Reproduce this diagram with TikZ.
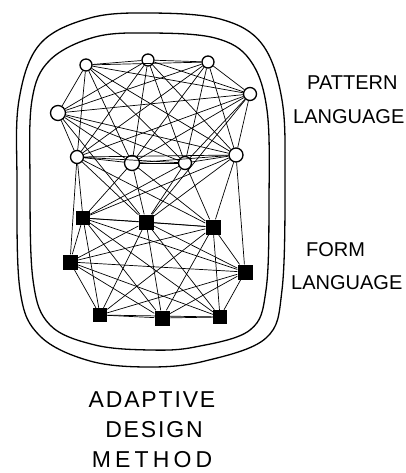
\documentclass[tikz,border=0pt]{standalone}
\usepackage{fontspec}
\newfontfamily\handfont{Liberation Sans}
\newfontfamily\handwide[LetterSpace=8]{Liberation Sans}
\newfontfamily\handwider[LetterSpace=18]{Liberation Sans}
\usetikzlibrary{calc}

\begin{document}
\begin{tikzpicture}[x=1pt, y=-1pt,
  pat/.style={circle, draw, line width=1.3pt, fill=white, inner sep=0pt, minimum size=#1},
  pat/.default=12pt,
  form/.style={rectangle, fill=black, inner sep=0pt, minimum size=#1},
  form/.default=14pt,
  link/.style={line width=0.7pt},
  rim/.style={line width=1.3pt},
  sidelab/.style={font=\handfont\fontsize{20}{20}\selectfont, anchor=west, inner sep=0pt},
  baselab/.style={font=\handwide\fontsize{23}{23}\selectfont, inner sep=0pt}]
  \useasboundingbox (0,0) rectangle (406,473);
  % --- Double rim ---
  \draw[rim] plot[smooth cycle, tension=0.6] coordinates {
    (150,13) (220,19) (262,44) (282,100) (285,180) (282,290) (266,338)
    (205,361) (150,367) (90,361) (40,336) (20,290) (17,180) (19,100) (40,44) (90,18)};
  \draw[rim] plot[smooth cycle, tension=0.6] coordinates {
    (150,33) (215,38) (250,60) (267,110) (269,200) (266,290) (250,330)
    (195,347) (150,350) (95,345) (50,325) (33,280) (30,180) (32,100) (50,60) (95,37)};
  % --- Pattern language (circles) ---
  \node[pat] (p1) at (86,65) {};
  \node[pat] (p2) at (148,60) {};
  \node[pat] (p3) at (208,62) {};
  \node[pat=15pt] (p4) at (58,113) {};
  \node[pat=13pt] (p5) at (250,94) {};
  \node[pat=13pt] (p6) at (77,157) {};
  \node[pat=15pt] (p7) at (132,163) {};
  \node[pat=13pt] (p8) at (185,163) {};
  \node[pat=14pt] (p9) at (236,155) {};
  % --- Form language (squares) ---
  \node[form] (f1) at (83,218) {};
  \node[form=15pt] (f2) at (146,222) {};
  \node[form=15pt] (f3) at (213,227) {};
  \node[form=15pt] (f4) at (70,262) {};
  \node[form=15pt] (f5) at (245,272) {};
  \node[form] (f6) at (100,315) {};
  \node[form=15pt] (f7) at (162,318) {};
  \node[form] (f8) at (220,317) {};
  % --- Links within each language ---
  \foreach \i in {1,...,8} {
    \pgfmathtruncatemacro{\k}{\i+1}
    \foreach \j in {\k,...,9} {
      \draw[link] (p\i) -- (p\j);
    }
  }
  \foreach \i in {1,...,7} {
    \pgfmathtruncatemacro{\k}{\i+1}
    \foreach \j in {\k,...,8} {
      \draw[link] (f\i) -- (f\j);
    }
  }
  % --- Links between the two ---
  \foreach \i in {6,...,9} {
    \foreach \j in {1,2,3} {
      \draw[link] (p\i) -- (f\j);
    }
  }
  \draw[link] (p6) -- (f4);
  \draw[link] (p9) -- (f5);
  \draw[link] (p4) -- (f2);
  \draw[link] (p5) -- (f2);
  % --- Labels ---
  \node[sidelab] (lpat) at (307,83) {PATTERN};
  \node[sidelab] (lpat2) at (293,117) {LANGUAGE};
  \node[sidelab] (lform) at (306,250) {FORM};
  \node[sidelab] (lform2) at (291,283) {LANGUAGE};
  \node[baselab] (ladapt) at (152,400) {ADAPTIVE};
  \node[baselab] (ldesign) at (154,430) {DESIGN};
  \node[baselab, font=\handwider\fontsize{23}{23}\selectfont] (lmethod) at (152,460) {METHOD};
\end{tikzpicture}
\end{document}
